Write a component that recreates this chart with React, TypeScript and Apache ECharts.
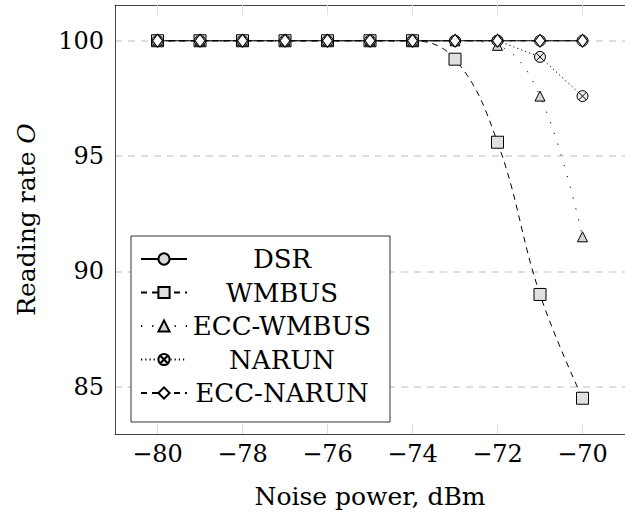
import React, { useEffect, useRef } from "react";
import * as echarts from "echarts";

const noisePower = [-80, -79, -78, -77, -76, -75, -74, -73, -72, -71, -70];
const dsr = [100, 100, 100, 100, 100, 100, 100, 100, 100, 100, 100];
const wmbus = [100, 100, 100, 100, 100, 100, 100, 99.2, 95.6, 89.0, 84.5];
const eccWmbus = [100, 100, 100, 100, 100, 100, 100, 100, 99.8, 97.6, 91.5];
const narun = [100, 100, 100, 100, 100, 100, 100, 100, 100, 99.3, 97.6];
const eccNarun = [100, 100, 100, 100, 100, 100, 100, 100, 100, 100, 100];
const xTicks = [-80, -78, -76, -74, -72, -70];
const yTicks = [85, 90, 95, 100];

const FONT = "DejaVu Serif";
const otimes =
  "path://M0,-10A10,10,0,1,1,0,10A10,10,0,1,1,0,-10ZM-7.07,-7.07L7.07,7.07M7.07,-7.07L-7.07,7.07";

const pairs = (ys: number[]) => noisePower.map((x, i) => [x, ys[i]]);

export default function App() {
  const ref = useRef<HTMLDivElement>(null);
  useEffect(() => {
    if (!ref.current) return;
    const chart = echarts.init(ref.current, null, { renderer: "svg" });
    const lineBase = { color: "#000", width: 1 };
    const marker = (fill: string) => ({ color: fill, borderColor: "#000", borderWidth: 1 });
    chart.setOption({
      animation: false,
      backgroundColor: "#fff",
      textStyle: { fontFamily: FONT },
      grid: { left: 115, top: 5, right: -6.5, bottom: 83 },
      legend: {
        orient: "vertical",
        left: 131,
        top: 236,
        padding: [10, 18, 16, 9],
        borderColor: "#333",
        borderWidth: 1,
        backgroundColor: "#fff",
        itemWidth: 46,
        itemHeight: 14,
        itemGap: 7.5,
        formatter: "{t|{name}}",
        textStyle: {
          fontFamily: FONT,
          fontSize: 26,
          color: "#000",
          rich: { t: { width: 180, align: "center", fontFamily: FONT, fontSize: 26, lineHeight: 26, color: "#000" } },
        },
        data: ["DSR", "WMBUS", "ECC-WMBUS", "NARUN", "ECC-NARUN"],
      },
      xAxis: [
        {
          type: "value",
          min: -81,
          max: -69,
          name: "Noise power, dBm",
          nameLocation: "middle",
          nameGap: 50,
          nameTextStyle: { fontFamily: FONT, fontSize: 25, color: "#000" },
          axisLine: { show: true, lineStyle: { color: "#444", width: 1 } },
          axisTick: { show: true, inside: true, length: 10, customValues: xTicks, lineStyle: { color: "#ddd" } },
          axisLabel: {
            customValues: xTicks,
            margin: 8,
            fontFamily: FONT,
            fontSize: 24,
            color: "#000",
            formatter: (v: number) => String(v).replace("-", "\u2212"),
          },
          splitLine: { show: false },
        },
        {
          type: "value",
          position: "top",
          min: -81,
          max: -69,
          axisLine: { show: true, lineStyle: { color: "#444", width: 1 } },
          axisTick: { show: true, inside: true, length: 10, customValues: xTicks, lineStyle: { color: "#ddd" } },
          axisLabel: { show: false, customValues: xTicks },
          splitLine: { show: false },
        },
      ],
      yAxis: {
        type: "value",
        min: 82.95,
        max: 101.55,
        name: "{a|Reading rate }{b|O}",
        nameLocation: "middle",
        nameGap: 76,
        nameTextStyle: {
          rich: {
            a: { fontFamily: FONT, fontSize: 25, color: "#000" },
            b: { fontFamily: FONT, fontSize: 25, fontStyle: "italic", color: "#000" },
          },
        },
        axisLine: { show: true, lineStyle: { color: "#444", width: 1 } },
        axisTick: { show: false, customValues: yTicks },
        axisLabel: { customValues: yTicks, margin: 11, fontFamily: FONT, fontSize: 24, color: "#000" },
        splitLine: { show: true, lineStyle: { color: "#d3d3d3", width: 1.5, type: [7, 6] } },
      },
      series: [
        {
          name: "DSR",
          type: "line",
          data: pairs(dsr),
          symbol: "circle",
          symbolSize: 11,
          lineStyle: { ...lineBase, type: "solid" },
          itemStyle: marker("#d9d9d9"),
        },
        {
          name: "WMBUS",
          type: "line",
          data: pairs(wmbus),
          smooth: 0.4,
          symbol: "rect",
          symbolSize: 12,
          lineStyle: { ...lineBase, type: [6, 5] },
          itemStyle: marker("#e0e0e0"),
        },
        {
          name: "ECC-WMBUS",
          type: "line",
          data: pairs(eccWmbus),
          smooth: 0.4,
          symbol: "triangle",
          symbolSize: 10,
          lineStyle: { ...lineBase, type: [1.2, 10] },
          itemStyle: marker("#d4d4d4"),
        },
        {
          name: "NARUN",
          type: "line",
          data: pairs(narun),
          symbol: otimes,
          symbolSize: 11,
          lineStyle: { ...lineBase, type: [1.2, 3] },
          itemStyle: marker("#ececec"),
        },
        {
          name: "ECC-NARUN",
          type: "line",
          data: pairs(eccNarun),
          symbol: "diamond",
          symbolSize: [10, 13],
          lineStyle: { ...lineBase, type: [6, 5] },
          itemStyle: marker("#ffffff"),
        },
      ],
    });
    return () => chart.dispose();
  }, []);
  return <div ref={ref} style={{ position: "fixed", left: 0, top: 0, width: 625, height: 517 }} />;
}
